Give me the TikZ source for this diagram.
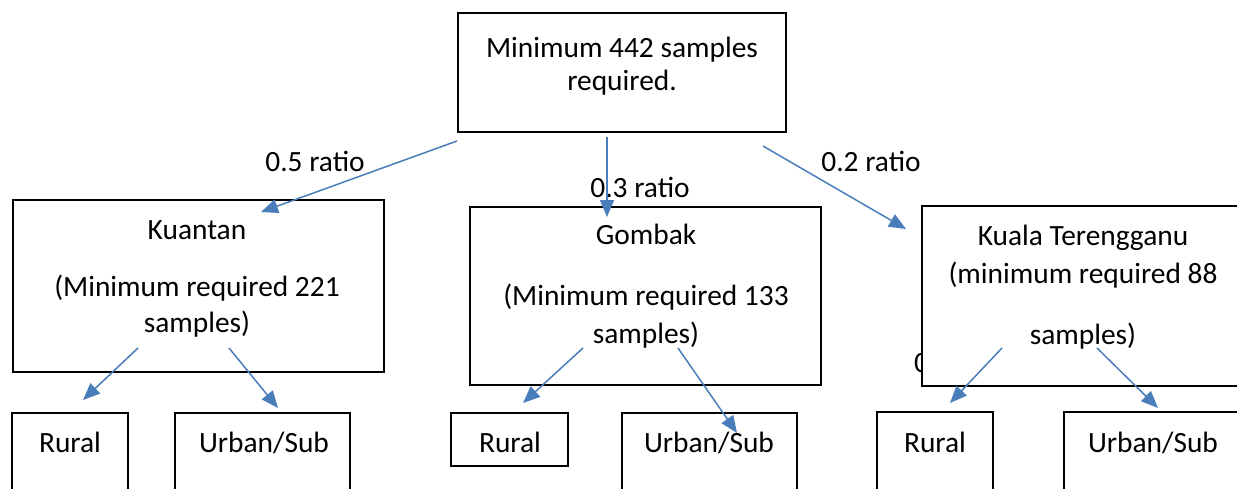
\documentclass[tikz,border=0pt]{standalone}
\usepackage{fontspec}
\setmainfont{Carlito}
\usetikzlibrary{arrows.meta}
\definecolor{arrowblue}{RGB}{74,126,187}
\tikzset{
  box/.style={draw=black, fill=white, line width=2pt, rectangle, inner sep=0pt},
  txt/.style={anchor=base, inner sep=0pt, font=\fontsize{29.4}{35}\selectfont},
  arr/.style={draw=arrowblue, line width=1.5pt, -{Triangle[length=17pt,width=14pt]}}
}
\begin{document}
\begin{tikzpicture}[x=1pt,y=-1pt]
\useasboundingbox (0,0) rectangle (1237,488);
\clip (0,0) rectangle (1237,488);
\fill[white] (0,0) rectangle (1237,488);

% hidden zero behind Kuala Terengganu box
\node[txt, anchor=base west] (zero) at (914,372) {0};

% boxes
\node[box, minimum width=328pt, minimum height=119pt] (top) at (622,72.5) {};
\node[box, minimum width=371pt, minimum height=172pt] (kua) at (198.5,286) {};
\node[box, minimum width=351pt, minimum height=178pt] (gom) at (645.5,296) {};
\node[box, minimum width=322pt, minimum height=180pt] (kt) at (1083,296) {};

\node[box, minimum width=116pt, minimum height=80pt] (kr) at (70,453) {};
\node[box, minimum width=175pt, minimum height=80pt] (ku) at (262.5,453) {};
\node[box, minimum width=117pt, minimum height=53pt] (gr) at (509.5,439.5) {};
\node[box, minimum width=175pt, minimum height=80pt] (gu) at (709.5,453) {};
\node[box, minimum width=116pt, minimum height=80pt] (tr) at (935,452) {};
\node[box, minimum width=178pt, minimum height=80pt] (tu) at (1153,452) {};

% texts
\node[txt] (t1) at (622,57) {Minimum 442 samples};
\node[txt] (t2) at (622,90.5) {required.};

\node[txt] (k1) at (197,239) {Kuantan};
\node[txt] (k2) at (197,296) {(Minimum required 221};
\node[txt] (k3) at (197,332) {samples)};

\node[txt] (g1) at (646,244) {Gombak};
\node[txt] (g2) at (646,305) {(Minimum required 133};
\node[txt] (g3) at (646,343) {samples)};

\node[txt] (q1) at (1083,245) {Kuala Terengganu};
\node[txt] (q2) at (1083,283) {(minimum required 88};
\node[txt] (q3) at (1083,344) {samples)};

\node[txt] (r5) at (315,171) {0.5 ratio};
\node[txt] (r3) at (640,197) {0.3 ratio};
\node[txt] (r2) at (871,171) {0.2 ratio};

\node[txt] (krt) at (70,452) {Rural};
\node[txt] (kut) at (264,452) {Urban/Sub};
\node[txt] (grt) at (510,452) {Rural};
\node[txt] (gut) at (709,452) {Urban/Sub};
\node[txt] (trt) at (935,452) {Rural};
\node[txt] (tut) at (1153,452) {Urban/Sub};

% arrow end points
\coordinate (a1s) at (457,141);  \coordinate (a1e) at (261,212);
\coordinate (a2s) at (607,137);  \coordinate (a2e) at (607,217);
\coordinate (a3s) at (763,146);  \coordinate (a3e) at (906,229);
\coordinate (b1s) at (138,348);  \coordinate (b1e) at (83,400);
\coordinate (b2s) at (229,348);  \coordinate (b2e) at (278,408);
\coordinate (c1s) at (583,348);  \coordinate (c1e) at (523,403);
\coordinate (c2s) at (678,348);  \coordinate (c2e) at (737,433);
\coordinate (d1s) at (1002,348); \coordinate (d1e) at (950,403);
\coordinate (d2s) at (1097,348); \coordinate (d2e) at (1158,408);

% arrows
\draw[arr] (a1s) -- (a1e);
\draw[arr] (a2s) -- (a2e);
\draw[arr] (a3s) -- (a3e);
\draw[arr] (b1s) -- (b1e);
\draw[arr] (b2s) -- (b2e);
\draw[arr] (c1s) -- (c1e);
\draw[arr] (c2s) -- (c2e);
\draw[arr] (d1s) -- (d1e);
\draw[arr] (d2s) -- (d2e);
\end{tikzpicture}
\end{document}
